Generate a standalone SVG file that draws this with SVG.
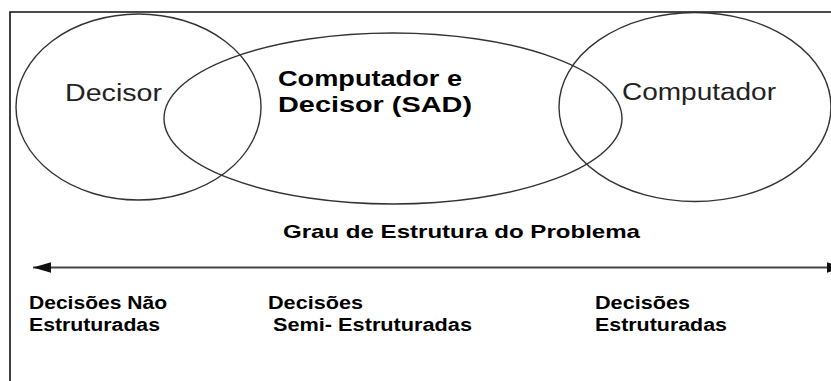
<svg xmlns="http://www.w3.org/2000/svg" width="831" height="381" viewBox="0 0 831 381">
<defs>
<style>
.set{fill:none;stroke:#333;stroke-width:1.4}
.lbl{font-family:"Liberation Sans",Arial,sans-serif;fill:#222}
.reg{font-size:23px}
.bb{font-weight:bold;font-size:22px;fill:#000}
.sm{font-weight:bold;font-size:18px;fill:#000}
.frame{stroke:#111;stroke-width:1.6;fill:none}
</style>
<marker id="ah" markerUnits="userSpaceOnUse" markerWidth="18" markerHeight="12" viewBox="0 0 17 10" refX="17" refY="5" orient="auto-start-reverse">
<path d="M0,0 L17,5 L0,10 Z" fill="#111"/>
</marker>
</defs>
<rect width="831" height="381" fill="#fff"/>
<path class="frame" d="M10,381 L10,12 L831,12"/>
<g id="decisor">
<ellipse class="set" cx="138.5" cy="107" rx="122.5" ry="93"/>
<text class="lbl reg" x="65" y="101" textLength="97" lengthAdjust="spacingAndGlyphs">Decisor</text>
</g>
<g id="sad">
<ellipse class="set" cx="393" cy="118.5" rx="229" ry="85.5"/>
<text class="lbl bb" x="278" y="86" textLength="184" lengthAdjust="spacingAndGlyphs">Computador e</text>
<text class="lbl bb" x="278" y="112" textLength="194" lengthAdjust="spacingAndGlyphs">Decisor (SAD)</text>
</g>
<g id="computador">
<ellipse class="set" cx="695" cy="107" rx="136" ry="94.5"/>
<text class="lbl reg" x="622" y="100" textLength="154" lengthAdjust="spacingAndGlyphs">Computador</text>
</g>
<g id="connectors">
<line x1="33" y1="267.5" x2="845" y2="267.5" stroke="#444" stroke-width="2" marker-start="url(#ah)" marker-end="url(#ah)"/>
</g>
<g id="scale-labels">
<text class="lbl sm" style="font-size:19px" x="283" y="238" textLength="357" lengthAdjust="spacingAndGlyphs">Grau de Estrutura do Problema</text>
<text class="lbl sm" x="29" y="309" textLength="138" lengthAdjust="spacingAndGlyphs">Decisões Não</text>
<text class="lbl sm" x="29" y="331" textLength="131" lengthAdjust="spacingAndGlyphs">Estruturadas</text>
<text class="lbl sm" x="268" y="309" textLength="95" lengthAdjust="spacingAndGlyphs">Decisões</text>
<text class="lbl sm" x="273" y="331" textLength="199" lengthAdjust="spacingAndGlyphs">Semi- Estruturadas</text>
<text class="lbl sm" x="595" y="309" textLength="95" lengthAdjust="spacingAndGlyphs">Decisões</text>
<text class="lbl sm" x="595" y="331" textLength="132" lengthAdjust="spacingAndGlyphs">Estruturadas</text>
</g>
</svg>
